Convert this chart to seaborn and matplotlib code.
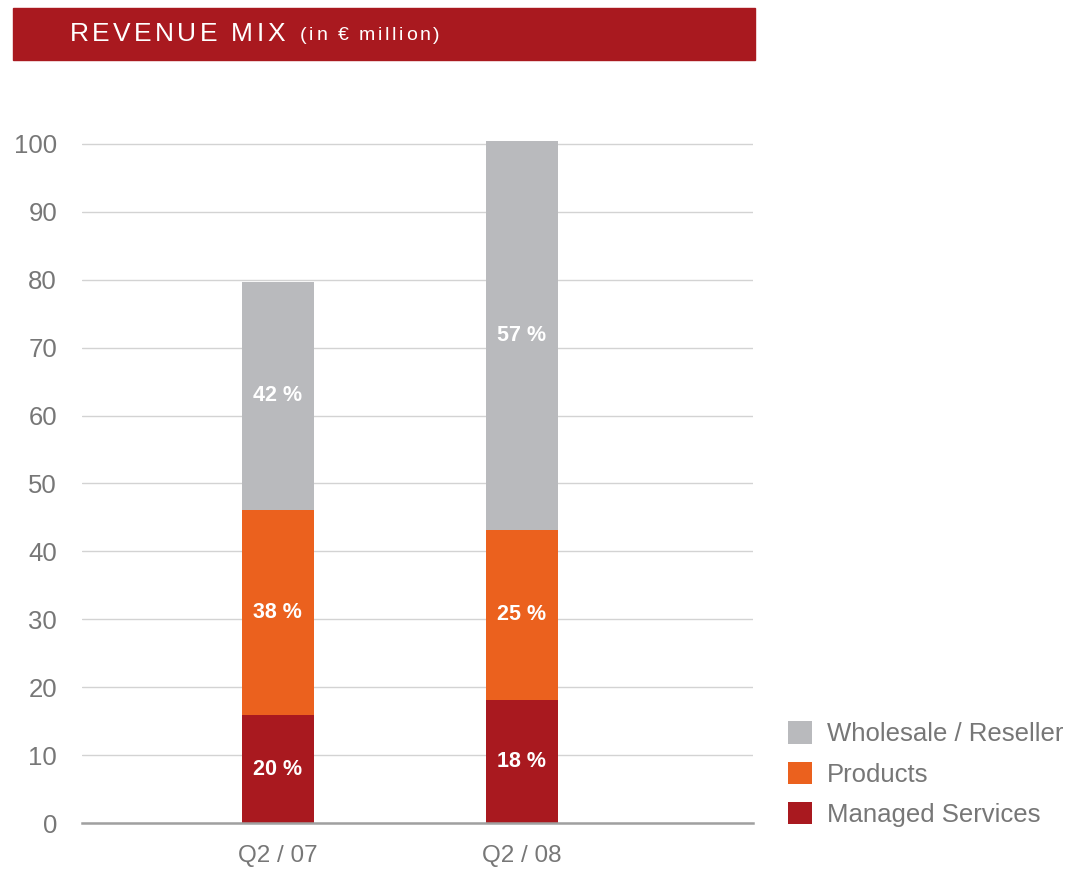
import matplotlib
matplotlib.use("Agg")
import matplotlib.pyplot as plt
from matplotlib.patches import Rectangle, Patch
import seaborn as sns
import pandas as pd
import numpy as np

# ---- data ----
quarters = ["Q2 / 07", "Q2 / 08"]
managed_services = [15.9, 18.1]
products = [30.2, 25.1]
wholesale = [33.6, 57.2]
pct_managed = ["20 %", "18 %"]
pct_products = ["38 %", "25 %"]
pct_wholesale = ["42 %", "57 %"]
y_ticks = [0, 10, 20, 30, 40, 50, 60, 70, 80, 90, 100]
series_names = ["Wholesale / Reseller", "Products", "Managed Services"]

C_GRAY = "#B9BABD"
C_ORANGE = "#EB611E"
C_RED = "#A9191F"
TXT = "#777777"

sns.set_theme(style="white")
plt.rcParams["font.family"] = ["Liberation Sans", "DejaVu Sans"]

fig = plt.figure(figsize=(10.70, 8.71), dpi=100)
W, H = 1070, 871
renderer = fig.canvas.get_renderer()


def tracked_text(x_px, y_px, s, size, track_px, **kw):
    """Place characters one by one with extra letter spacing (pixel coords)."""
    x = x_px
    for ch in s:
        t = fig.text(x / W, 1 - y_px / H, ch, fontsize=size, ha="left",
                     va="center", **kw)
        if ch == " ":
            probe = fig.text(0, 0, "a a", fontsize=size)
            probe2 = fig.text(0, 0, "aa", fontsize=size)
            w = (probe.get_window_extent(renderer).width
                 - probe2.get_window_extent(renderer).width)
            probe.remove(); probe2.remove()
        else:
            w = t.get_window_extent(renderer).width
        x += w + track_px
    return x


# header band
fig.patches.append(Rectangle((13 / W, 1 - 60 / H), (755 - 13) / W, 52 / H,
                             transform=fig.transFigure, color=C_RED, zorder=0))
tracked_text(70, 34, "REVENUE MIX", 19, 3.3, color="white")
tracked_text(300, 36, "(in € million)", 14, 2.6, color="white")

# axes
left, right, bottom0 = 82, 753, 823
ppu = (823 - 144) / 100.0
ytop = 102
ax = fig.add_axes([left / W, (H - bottom0) / H, (right - left) / W, ytop * ppu / H])

df = pd.DataFrame({
    "quarter": quarters,
    "ms": managed_services,
    "pr": products,
    "ws": wholesale,
})
df["lvl1"] = df["ms"]
df["lvl2"] = df["ms"] + df["pr"]
df["lvl3"] = df["ms"] + df["pr"] + df["ws"]

bw = 72 / 244
for col, colr in [("lvl3", C_GRAY), ("lvl2", C_ORANGE), ("lvl1", C_RED)]:
    sns.barplot(data=df, x="quarter", y=col, color=colr, width=bw,
                saturation=1, ax=ax, zorder=3, linewidth=0)

# labels in segments
for i in range(len(quarters)):
    ms, pr, ws = df.loc[i, "ms"], df.loc[i, "pr"], df.loc[i, "ws"]
    for yc, lab in [(ms / 2, pct_managed[i]),
                    (ms + pr / 2, pct_products[i]),
                    (ms + pr + ws / 2, pct_wholesale[i])]:
        ax.text(i, yc, lab, color="white", fontsize=15.5, fontweight="bold",
                ha="center", va="center", zorder=5)

ax.set_xlim(-0.803, 1.947)
ax.set_ylim(0, ytop)
ax.set_yticks(y_ticks)
ax.set_yticklabels([str(t) for t in y_ticks])
ax.grid(axis="y", color="#D3D3D3", linewidth=1, zorder=0)
ax.grid(axis="x", visible=False)
ax.set_axisbelow(True)
for s in ["top", "right", "left"]:
    ax.spines[s].set_visible(False)
ax.spines["bottom"].set_color("#A0A0A0")
ax.spines["bottom"].set_linewidth(1.8)
ax.spines["bottom"].set_zorder(6)
ax.tick_params(axis="y", length=0, pad=18, labelsize=18.5, labelcolor=TXT)
ax.tick_params(axis="x", length=0, pad=16, labelsize=17.5, labelcolor=TXT)
ax.set_xlabel("")
ax.set_ylabel("")

handles = [Patch(facecolor=C_GRAY, edgecolor="none"),
           Patch(facecolor=C_ORANGE, edgecolor="none"),
           Patch(facecolor=C_RED, edgecolor="none")]
leg = fig.legend(handles, series_names, loc="lower left",
                 bbox_to_anchor=(788 / W, (H - 827) / H), frameon=False,
                 fontsize=18.5, handlelength=0.95, handleheight=0.95,
                 handletextpad=0.55, labelspacing=0.6, borderpad=0,
                 borderaxespad=0)
for t in leg.get_texts():
    t.set_color(TXT)

fig.savefig("out.png", dpi=100)
